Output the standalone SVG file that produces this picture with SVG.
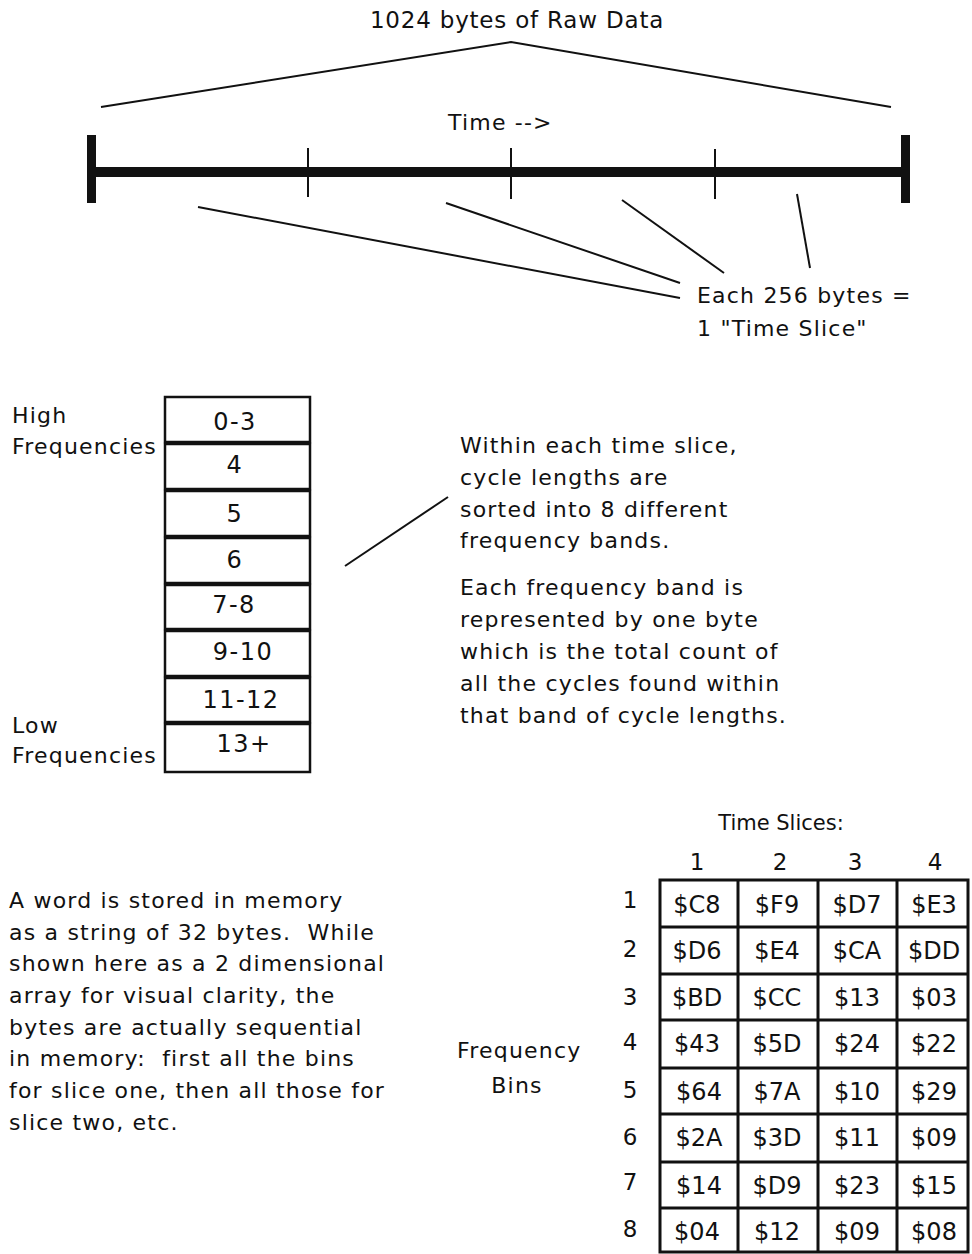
<svg xmlns="http://www.w3.org/2000/svg" width="972" height="1254" viewBox="0 0 972 1254">
<style>
text{font-family:"DejaVu Sans","Liberation Sans",sans-serif;fill:#111;white-space:pre}
.t{font-size:22px;letter-spacing:1.2px}
.title{font-size:23px;letter-spacing:0.8px}
.lbl{font-size:23px;text-anchor:middle}
.band{font-size:24px;letter-spacing:1.5px;text-anchor:middle}
.cell{font-size:24px;text-anchor:middle}
.ln{stroke:#111;stroke-width:2;fill:none}
.box{fill:#fff;stroke:#111;stroke-width:2.5}
</style>
<rect width="972" height="1254" fill="#fff"/>
<g id="title"><text class="title" x="517" y="28" text-anchor="middle">1024 bytes of Raw Data</text></g>
<g id="timeline">
<rect x="88" y="167" width="822" height="10" fill="#111"/>
<rect x="87" y="135" width="9" height="68" fill="#111"/>
<rect x="901" y="135" width="9" height="68" fill="#111"/>
<line class="ln" x1="308" y1="148" x2="308" y2="197"/>
<line class="ln" x1="511" y1="148" x2="511" y2="199"/>
<line class="ln" x1="715" y1="149" x2="715" y2="199"/>
<text class="t" x="448" y="130">Time --&gt;</text>
</g>
<g id="connectors">
<polyline class="ln" points="101,107 511,42 891,107"/>
<line class="ln" x1="198" y1="207" x2="680" y2="298"/>
<line class="ln" x1="446" y1="203" x2="680" y2="283"/>
<line class="ln" x1="622" y1="200" x2="724" y2="273"/>
<line class="ln" x1="797" y1="194" x2="810" y2="268"/>
<line class="ln" x1="345" y1="566" x2="448" y2="497"/>
</g>
<g id="slice-note">
<text class="t" x="697" y="303">Each 256 bytes =</text>
<text class="t" x="697" y="336">1 "Time Slice"</text>
</g>
<g id="freq-labels">
<text class="t" x="12" y="423">High</text>
<text class="t" x="12" y="454">Frequencies</text>
<text class="t" x="12" y="733">Low</text>
<text class="t" x="12" y="763">Frequencies</text>
</g>
<g id="bands">
<rect class="box" x="165" y="397" width="145" height="45"/><text class="band" x="235" y="430">0-3</text>
<rect class="box" x="165" y="444" width="145" height="45"/><text class="band" x="235" y="473">4</text>
<rect class="box" x="165" y="491" width="145" height="45"/><text class="band" x="235" y="522">5</text>
<rect class="box" x="165" y="538" width="145" height="45"/><text class="band" x="235" y="568">6</text>
<rect class="box" x="165" y="585" width="145" height="44"/><text class="band" x="234" y="613">7-8</text>
<rect class="box" x="165" y="631" width="145" height="45"/><text class="band" x="243" y="660">9-10</text>
<rect class="box" x="165" y="678" width="145" height="44"/><text class="band" x="241" y="708">11-12</text>
<rect class="box" x="165" y="724" width="145" height="48"/><text class="band" x="244" y="752">13+</text>
</g>
<g id="band-note">
<text class="t" x="460" y="453">Within each time slice,</text>
<text class="t" x="460" y="485">cycle lengths are</text>
<text class="t" x="460" y="517">sorted into 8 different</text>
<text class="t" x="460" y="548">frequency bands.</text>
<text class="t" x="460" y="595">Each frequency band is</text>
<text class="t" x="460" y="627">represented by one byte</text>
<text class="t" x="460" y="659">which is the total count of</text>
<text class="t" x="460" y="691">all the cycles found within</text>
<text class="t" x="460" y="723">that band of cycle lengths.</text>
</g>
<g id="memory-note">
<text class="t" x="9" y="908">A word is stored in memory</text>
<text class="t" x="9" y="940">as a string of 32 bytes.  While</text>
<text class="t" x="9" y="971">shown here as a 2 dimensional</text>
<text class="t" x="9" y="1003">array for visual clarity, the</text>
<text class="t" x="9" y="1035">bytes are actually sequential</text>
<text class="t" x="9" y="1066">in memory:  first all the bins</text>
<text class="t" x="9" y="1098">for slice one, then all those for</text>
<text class="t" x="9" y="1130">slice two, etc.</text>
</g>
<g id="table-labels">
<text x="781" y="830" text-anchor="middle" font-size="21">Time Slices:</text>
<text class="t" x="457" y="1058">Frequency</text>
<text class="t" x="517" y="1093" text-anchor="middle">Bins</text>
<text class="lbl" x="697" y="870">1</text>
<text class="lbl" x="780" y="870">2</text>
<text class="lbl" x="855" y="870">3</text>
<text class="lbl" x="935" y="870">4</text>
<text class="lbl" x="630" y="908">1</text>
<text class="lbl" x="630" y="957">2</text>
<text class="lbl" x="630" y="1005">3</text>
<text class="lbl" x="630" y="1050">4</text>
<text class="lbl" x="630" y="1098">5</text>
<text class="lbl" x="630" y="1145">6</text>
<text class="lbl" x="630" y="1190">7</text>
<text class="lbl" x="630" y="1237">8</text>
</g>
<g id="table">
<g stroke="#111" stroke-width="3" fill="none">
<rect x="660" y="880" width="308" height="372"/>
<line x1="738" y1="880" x2="738" y2="1252"/>
<line x1="818" y1="880" x2="818" y2="1252"/>
<line x1="897" y1="880" x2="897" y2="1252"/>
<line x1="660" y1="927" x2="968" y2="927"/>
<line x1="660" y1="974" x2="968" y2="974"/>
<line x1="660" y1="1020" x2="968" y2="1020"/>
<line x1="660" y1="1068" x2="968" y2="1068"/>
<line x1="660" y1="1114" x2="968" y2="1114"/>
<line x1="660" y1="1162" x2="968" y2="1162"/>
<line x1="660" y1="1208" x2="968" y2="1208"/>
</g>
<text class="cell" x="697" y="913">$C8</text><text class="cell" x="777" y="913">$F9</text><text class="cell" x="857" y="913">$D7</text><text class="cell" x="934" y="913">$E3</text>
<text class="cell" x="697" y="959">$D6</text><text class="cell" x="777" y="959">$E4</text><text class="cell" x="857" y="959">$CA</text><text class="cell" x="934" y="959">$DD</text>
<text class="cell" x="697" y="1006">$BD</text><text class="cell" x="777" y="1006">$CC</text><text class="cell" x="857" y="1006">$13</text><text class="cell" x="934" y="1006">$03</text>
<text class="cell" x="697" y="1052">$43</text><text class="cell" x="777" y="1052">$5D</text><text class="cell" x="857" y="1052">$24</text><text class="cell" x="934" y="1052">$22</text>
<text class="cell" x="699" y="1100">$64</text><text class="cell" x="777" y="1100">$7A</text><text class="cell" x="857" y="1100">$10</text><text class="cell" x="934" y="1100">$29</text>
<text class="cell" x="699" y="1146">$2A</text><text class="cell" x="777" y="1146">$3D</text><text class="cell" x="857" y="1146">$11</text><text class="cell" x="934" y="1146">$09</text>
<text class="cell" x="699" y="1194">$14</text><text class="cell" x="777" y="1194">$D9</text><text class="cell" x="857" y="1194">$23</text><text class="cell" x="934" y="1194">$15</text>
<text class="cell" x="697" y="1240">$04</text><text class="cell" x="777" y="1240">$12</text><text class="cell" x="857" y="1240">$09</text><text class="cell" x="934" y="1240">$08</text>
</g>
</svg>
